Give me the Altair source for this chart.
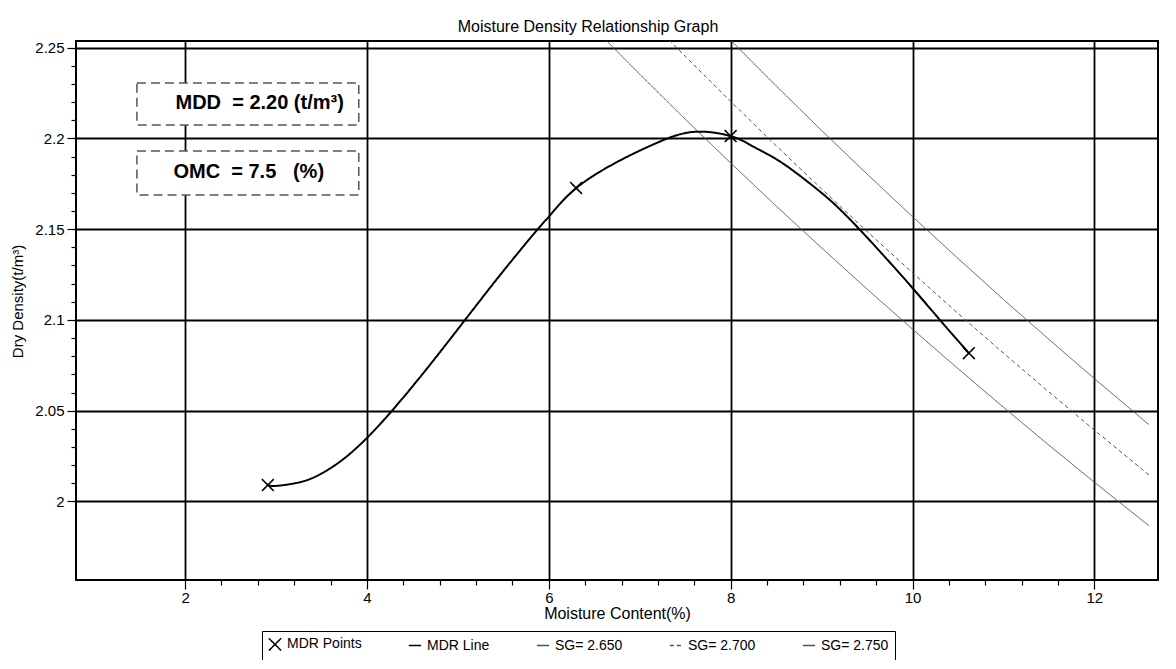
import altair as alt
import pandas as pd

# ---------------- data ----------------
SERIES = ["MDR Points", "MDR Line", "SG= 2.650", "SG= 2.700", "SG= 2.750"]

# MDR test points (moisture %, dry density t/m3)
mdr_x = [2.91, 6.30, 8.00, 10.62]
mdr_y = [2.009, 2.1727, 2.2013, 2.0817]

# MDR fitted line
curve_x = [2.91, 3.01, 3.27, 3.49, 3.74, 4.00, 4.26, 4.62, 5.06, 5.47, 5.87, 6.03,
           6.30, 6.75, 7.19, 7.59, 8.00, 8.25, 8.53, 8.83, 9.12, 9.41, 9.70, 10.00,
           10.30, 10.62]
curve_y = [2.0090, 2.0086, 2.0107, 2.0151, 2.0233, 2.0350, 2.0491, 2.0707, 2.0988,
           2.1251, 2.1495, 2.1586, 2.1726, 2.1870, 2.1976, 2.2036, 2.2013, 2.1955,
           2.1877, 2.1768, 2.1648, 2.1503, 2.1345, 2.1176, 2.1001, 2.0817]

# zero-air-void lines
sg265_x = [6.4, 7.0, 7.5, 8.0, 8.5, 9.0, 9.5, 10.0, 10.5, 11.0, 11.5, 12.0, 12.6]
sg265_y = [2.2657, 2.2354, 2.2106, 2.1865, 2.1628, 2.1397, 2.1170, 2.0949, 2.0732,
           2.0519, 2.0310, 2.0106, 1.9866]
sg270_x = [7.0, 7.5, 8.0, 8.5, 9.0, 9.5, 10.0, 10.5, 11.0, 11.5, 12.0, 12.6]
sg270_y = [2.2708, 2.2453, 2.2204, 2.1960, 2.1722, 2.1488, 2.1260, 2.1036, 2.0817,
           2.0603, 2.0393, 2.0146]
sg275_x = [7.5, 8.0, 8.5, 9.0, 9.5, 10.0, 10.5, 11.0, 11.5, 12.0, 12.6]
sg275_y = [2.2798, 2.2541, 2.2290, 2.2044, 2.1804, 2.1569, 2.1339, 2.1113, 2.0893,
           2.0677, 2.0423]

# axis ticks (major + minor)
x_ticks = [2.0, 2.4, 2.8, 3.2, 3.6, 4.0, 4.4, 4.8, 5.2, 5.6, 6.0, 6.4, 6.8, 7.2, 7.6,
           8.0, 8.4, 8.8, 9.2, 9.6, 10.0, 10.4, 10.8, 11.2, 11.6, 12.0]
y_ticks = [2.00, 2.01, 2.02, 2.03, 2.04, 2.05, 2.06, 2.07, 2.08, 2.09, 2.10, 2.11,
           2.12, 2.13, 2.14, 2.15, 2.16, 2.17, 2.18, 2.19, 2.20, 2.21, 2.22, 2.23,
           2.24, 2.25]

# annotation boxes
box_labels = ["MDD\u00a0\u00a0= 2.20 (t/m\u00b3)", "OMC\u00a0\u00a0= 7.5\u00a0\u00a0\u00a0(%)"]

# ---------------- tables ----------------
pts = pd.DataFrame({"x": mdr_x, "y": mdr_y, "series": "MDR Points"})
curve = pd.DataFrame({"x": curve_x, "y": curve_y, "series": "MDR Line"})
sg = pd.concat([
    pd.DataFrame({"x": sg265_x, "y": sg265_y, "series": "SG= 2.650"}),
    pd.DataFrame({"x": sg270_x, "y": sg270_y, "series": "SG= 2.700"}),
    pd.DataFrame({"x": sg275_x, "y": sg275_y, "series": "SG= 2.750"}),
])
boxes = pd.DataFrame({
    "x1": [1.47, 1.47], "x2": [3.91, 3.91],
    "y1": [2.2306, 2.1931], "y2": [2.2074, 2.1689],
    "tx": [2.82, 2.70], "ty": [2.2196, 2.1817],
    "label": box_labels,
})

FONT = "Liberation Sans, Arial, sans-serif"
TEST_X = "abs(datum.value/2 - round(datum.value/2)) < 0.001"
TEST_Y = "abs(datum.value*20 - round(datum.value*20)) < 0.001"

x_axis = alt.Axis(
    values=x_ticks, title="Moisture Content(%)",
    labelExpr=f"({TEST_X}) ? format(datum.value, 'd') : ''",
    grid=True, gridColor="black", gridWidth=1.8,
    gridOpacity={"condition": {"test": TEST_X, "value": 1}, "value": 0},
    tickColor="black", tickWidth=1.2,
    tickSize={"condition": {"test": TEST_X, "value": 9}, "value": 5},
    domain=False, labelFont=FONT, labelFontSize=15, labelColor="black",
    labelPadding=1, labelFlush=False, labelOverlap=False,
    titleFont=FONT, titleFontSize=16, titleFontWeight="normal", titleColor="black",
    titleY=33, titleBaseline="middle",
)
y_axis = alt.Axis(
    values=y_ticks, title="Dry Density(t/m\u00b3)",
    labelExpr=f"({TEST_Y}) ? format(datum.value, '~g') : ''",
    grid=True, gridColor="black", gridWidth=1.8,
    gridOpacity={"condition": {"test": TEST_Y, "value": 1}, "value": 0},
    tickColor="black", tickWidth=1.2,
    tickSize={"condition": {"test": TEST_Y, "value": 9}, "value": 5},
    domain=False, labelFont=FONT, labelFontSize=15, labelColor="black",
    labelPadding=3, labelFlush=False, labelOverlap=False,
    titleFont=FONT, titleFontSize=15, titleFontWeight="normal", titleColor="black",
    titleX=-59, titleY=260, titleBaseline="middle",
)

xs = alt.Scale(domain=[0.8, 12.7], nice=False, zero=False)
ys = alt.Scale(domain=[1.9567, 2.2537], nice=False, zero=False)

legend = alt.Legend(
    title=None, orient="none", legendX=186, legendY=590, direction="horizontal",
    columns=5, fillColor="white", strokeColor="black", padding=6,
    labelFont=FONT, labelFontSize=14, labelColor="black", labelLimit=300,
    symbolSize=150, symbolStrokeWidth=1.5, columnPadding=43, labelOffset=5,
)

X_PATH = "M-1,-1L1,1M-1,1L1,-1"
color = alt.Color("series:N", scale=alt.Scale(
    domain=SERIES, range=["black", "black", "#555555", "#555555", "#555555"]), legend=legend)
dash = alt.StrokeDash("series:N", scale=alt.Scale(
    domain=SERIES, range=[[1, 0], [1, 0], [1, 0], [4, 3], [1, 0]]), legend=legend)
shape = alt.Shape("series:N", scale=alt.Scale(
    domain=SERIES, range=[X_PATH, "stroke", "stroke", "stroke", "stroke"]), legend=legend)

X = alt.X("x:Q", scale=xs, axis=x_axis)
Y = alt.Y("y:Q", scale=ys, axis=y_axis)

sg_layer = alt.Chart(sg).mark_line(clip=True, strokeWidth=1).encode(
    x=X, y=Y, color=color, strokeDash=dash)
curve_layer = alt.Chart(curve).mark_line(interpolate="natural", strokeWidth=2).encode(
    x=X, y=Y, color=color, strokeDash=dash)
pts_layer = alt.Chart(pts).mark_point(size=140, strokeWidth=1.6, filled=False, opacity=1).encode(
    x=X, y=Y, color=color, shape=shape, strokeDash=dash)

box_layer = alt.Chart(boxes).mark_rect(
    fill="white", stroke="#555555", strokeDash=[9, 5], strokeWidth=1.5).encode(
    x=alt.X("x1:Q", scale=xs, axis=x_axis), x2="x2:Q",
    y=alt.Y("y1:Q", scale=ys, axis=y_axis), y2="y2:Q")
text_layer = alt.Chart(boxes).mark_text(
    font=FONT, fontSize=20, fontWeight="bold", color="black",
    align="center", baseline="middle").encode(
    x=alt.X("tx:Q", scale=xs, axis=x_axis),
    y=alt.Y("ty:Q", scale=ys, axis=y_axis), text="label:N")

chart = alt.layer(sg_layer, curve_layer, pts_layer, box_layer, text_layer).properties(
    width=1082, height=539,
    title=alt.TitleParams("Moisture Density Relationship Graph", font=FONT, fontSize=16,
                          fontWeight="normal", color="black", anchor="middle",
                          offset=6, dx=-29),
    autosize=alt.AutoSizeParams(type="none"),
    padding={"left": 68, "top": 33, "right": 8, "bottom": 80},
    background="white",
).configure_view(stroke="black", strokeWidth=2)

chart.save("out.html", embed_options={"renderer": "svg", "actions": False})
